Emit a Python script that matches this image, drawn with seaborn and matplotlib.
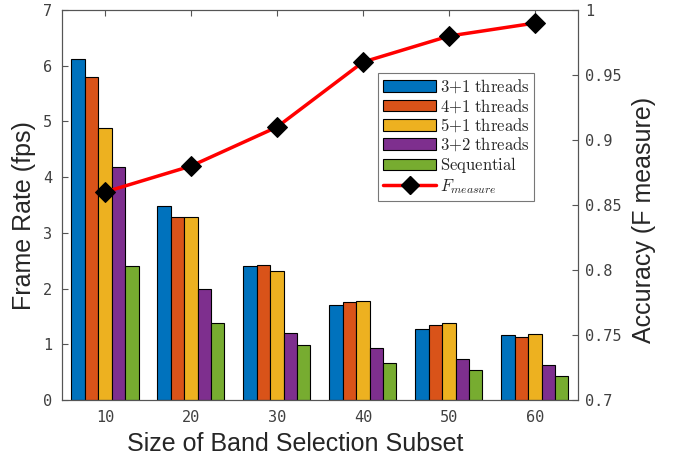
import numpy as np
import pandas as pd
import matplotlib
matplotlib.use("Agg")
import matplotlib.pyplot as plt
import seaborn as sns
from matplotlib.patches import Patch
from matplotlib.lines import Line2D

# Data
subset_sizes = [10, 20, 30, 40, 50, 60]
series_names = ["3+1 threads", "4+1 threads", "5+1 threads", "3+2 threads", "Sequential"]
fps_3p1 = [6.12, 3.48, 2.41, 1.71, 1.27, 1.17]
fps_4p1 = [5.79, 3.28, 2.42, 1.76, 1.34, 1.14]
fps_5p1 = [4.89, 3.28, 2.32, 1.78, 1.39, 1.18]
fps_3p2 = [4.18, 2.00, 1.21, 0.94, 0.73, 0.62]
fps_seq = [2.41, 1.39, 0.99, 0.67, 0.53, 0.44]
f_measure = [0.86, 0.88, 0.91, 0.96, 0.98, 0.99]

colors = ["#0072BD", "#D95319", "#EDB120", "#7E2F8E", "#77AC30"]

sns.set_style("white")
plt.rcParams["mathtext.fontset"] = "cm"

rows = []
for name, vals in zip(series_names, [fps_3p1, fps_4p1, fps_5p1, fps_3p2, fps_seq]):
    for s, v in zip(subset_sizes, vals):
        rows.append({"size": s, "fps": v, "series": name})
df = pd.DataFrame(rows)

fig = plt.figure(figsize=(6.78, 4.58), dpi=100)
ax = fig.add_axes([0.0914, 0.1266, 0.761, 0.8514])

sns.barplot(data=df, x="size", y="fps", hue="series", hue_order=series_names,
            palette=colors, native_scale=True, width=0.78, gap=0,
            edgecolor="black", linewidth=0.8, saturation=1, ax=ax, legend=False)

label_kw = dict(fontsize=18, family="Liberation Sans", color="#262626")
ax.set_xlim(5, 65)
ax.set_ylim(0, 7)
ax.set_xticks(subset_sizes)
ax.set_yticks(range(0, 8))
ax.set_xlabel("Size of Band Selection Subset", **label_kw)
ax.set_ylabel("Frame Rate (fps)", **label_kw)
ax.xaxis.set_label_coords(0.4516, -0.083)
ax.yaxis.set_label_coords(-0.05, 0.472)
ax.tick_params(direction="in", length=4, labelsize=11, top=True,
               color="#555555", labelcolor="#404040", pad=7)
for lbl in ax.get_xticklabels() + ax.get_yticklabels():
    lbl.set_family("DejaVu Sans Mono")

ax2 = ax.twinx()
sns.lineplot(x=subset_sizes, y=f_measure, color="red", linewidth=2.5,
             marker="D", markersize=10, markerfacecolor="black",
             markeredgecolor="black", ax=ax2)
ax2.set_ylim(0.7, 1.0)
ax2.set_yticks([0.7, 0.75, 0.8, 0.85, 0.9, 0.95, 1.0])
ax2.set_yticklabels(["0.7", "0.75", "0.8", "0.85", "0.9", "0.95", "1"])
ax2.set_ylabel("Accuracy (F measure)", **label_kw)
ax2.yaxis.set_label_coords(1.105, 0.4615)
ax2.tick_params(direction="in", length=4, labelsize=11,
                color="#555555", labelcolor="#404040", pad=5)
for lbl in ax2.get_yticklabels():
    lbl.set_family("DejaVu Sans Mono")

for a in (ax, ax2):
    for sp in a.spines.values():
        sp.set_color("#555555")
        sp.set_linewidth(0.8)

handles = [Patch(facecolor=c, edgecolor="black", linewidth=0.8) for c in colors]
handles.append(Line2D([0], [0], color="red", linewidth=2.5, marker="D",
                      markersize=9, markerfacecolor="black", markeredgecolor="black"))
labels = [r"$\mathrm{3{+}1\ threads}$", r"$\mathrm{4{+}1\ threads}$",
          r"$\mathrm{5{+}1\ threads}$", r"$\mathrm{3{+}2\ threads}$",
          r"$\mathrm{Sequential}$", r"$F_{measure}$"]
leg = ax2.legend(handles, labels, loc="upper left",
                 bbox_to_anchor=(378 / 678, 1 - 73 / 458), bbox_transform=fig.transFigure,
                 fontsize=12, frameon=True, fancybox=False, handlelength=3.2,
                 handletextpad=0.2, labelspacing=0.08, borderpad=0.3, borderaxespad=0)
leg.get_frame().set_edgecolor("#555555")
leg.get_frame().set_linewidth(0.8)

fig.savefig("out.png", dpi=100)
